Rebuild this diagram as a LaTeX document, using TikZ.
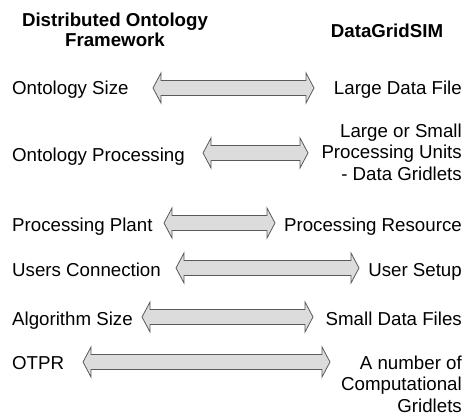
\documentclass[tikz,border=0pt]{standalone}
\usepackage{fontspec}
\setmainfont{Liberation Sans}
\usetikzlibrary{calc}

\definecolor{arrowfill}{HTML}{DCDCDC}
\definecolor{arrowline}{HTML}{5A5A5A}

\tikzset{
  label/.style={inner sep=0pt, font=\fontsize{18.7}{21.5}\selectfont},
  lefttext/.style={label, anchor=base west},
  % multi-line texts: the base anchor sits on the last line
  righttext/.style={label, anchor=base east, align=right},
  header/.style={label, font=\bfseries\fontsize{18.7}{20}\selectfont, align=center, anchor=base},
  % horizontal double-headed block arrow drawn between two coordinates
  blockarrow/.style={draw=arrowline, fill=arrowfill, line width=0.8pt, line join=miter,
    to path={
      (\tikztostart) -- ++(8,-15) -- ++(0,7.5)
      -- ($(\tikztotarget)+(-8,-7.5)$) -- ++(0,-7.5)
      -- (\tikztotarget) -- ++(-8,15) -- ++(0,-7.5)
      -- ($(\tikztostart)+(8,7.5)$) -- ++(0,7.5) -- cycle
    }}
}

\begin{document}
\begin{tikzpicture}[x=1pt, y=-1pt]
  \useasboundingbox (0,0) rectangle (465,417);

  % column headers
  \node[header] (hleft)  at (115,47) {Distributed Ontology\\Framework};
  \node[header] (hright) at (387,38) {DataGridSIM};

  % row 1
  \node[lefttext]  (l1) at (12,95)  {Ontology Size};
  \node[righttext] (r1) at (462,95) {Large Data File};
  \coordinate (a1s) at (153,88);
  \coordinate (a1e) at (314,88);
  \draw[blockarrow] (a1s) to (a1e);

  % row 2
  \node[lefttext]  (l2) at (12,161)  {Ontology Processing};
  \node[righttext] (r2) at (462,180) {Large or Small\\Processing Units\\- Data Gridlets};
  \coordinate (a2s) at (203,153);
  \coordinate (a2e) at (308,153);
  \draw[blockarrow] (a2s) to (a2e);

  % row 3
  \node[lefttext]  (l3) at (12,231)  {Processing Plant};
  \node[righttext] (r3) at (462,231) {Processing Resource};
  \coordinate (a3s) at (164,223);
  \coordinate (a3e) at (275,223);
  \draw[blockarrow] (a3s) to (a3e);

  % row 4
  \node[lefttext]  (l4) at (12,276)  {Users Connection};
  \node[righttext] (r4) at (462,276) {User Setup};
  \coordinate (a4s) at (176,268);
  \coordinate (a4e) at (359,268);
  \draw[blockarrow] (a4s) to (a4e);

  % row 5
  \node[lefttext]  (l5) at (12,325)  {Algorithm Size};
  \node[righttext] (r5) at (462,325) {Small Data Files};
  \coordinate (a5s) at (142,317);
  \coordinate (a5e) at (313,317);
  \draw[blockarrow] (a5s) to (a5e);

  % row 6
  \node[lefttext]  (l6) at (12,369)  {OTPR};
  \node[righttext] (r6) at (462,412) {A number of\\Computational\\Gridlets};
  \coordinate (a6s) at (83,362);
  \coordinate (a6e) at (330,362);
  \draw[blockarrow] (a6s) to (a6e);
\end{tikzpicture}
\end{document}
